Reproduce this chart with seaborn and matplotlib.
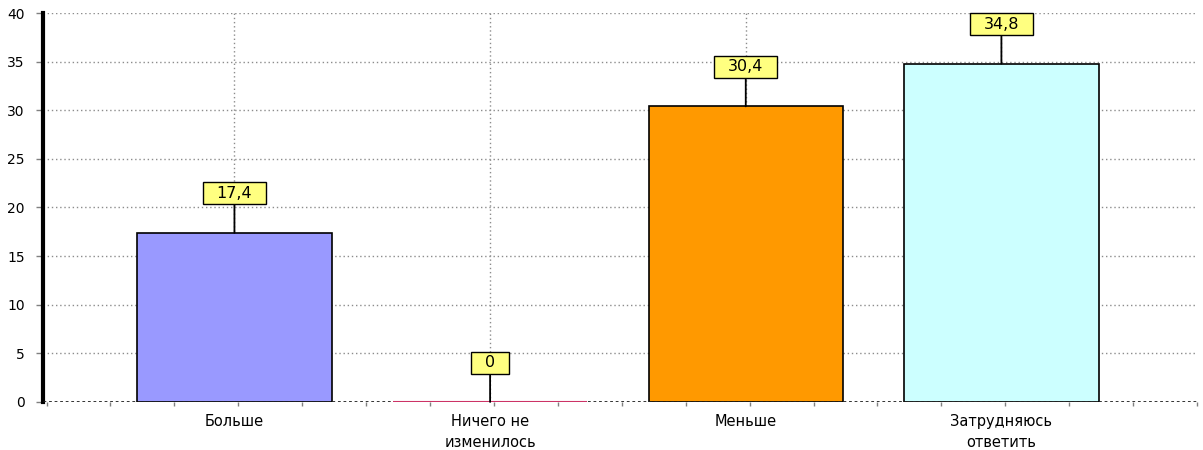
import matplotlib
matplotlib.use("Agg")
import matplotlib.pyplot as plt
from matplotlib.path import Path
import seaborn as sns
import numpy as np

categories = ["Больше", "Ничего не\nизменилось", "Меньше", "Затрудняюсь\nответить"]
values = [17.4, 0.0, 30.4, 34.8]
value_labels = ["17,4", "0", "30,4", "34,8"]
bar_colors = ["#9999FF", "#CC3366", "#FF9900", "#CCFFFF"]
y_ticks = [0, 5, 10, 15, 20, 25, 30, 35, 40]

sns.set_style("white")
plt.rcParams["font.family"] = ["DejaVu Sans"]
plt.rcParams["font.size"] = 10
plt.rcParams["text.color"] = "black"
plt.rcParams["xtick.labelcolor"] = "black"
plt.rcParams["ytick.labelcolor"] = "black"


def label_box(x0, y0, width, height, mutation_size):
    # rectangular box, wider padding left/right than top/bottom
    px = 0.85 * mutation_size
    py = 0.22 * mutation_size
    x0, x1 = x0 - px, x0 + width + px
    y0, y1 = y0 - py, y0 + height + py
    return Path([(x0, y0), (x1, y0), (x1, y1), (x0, y1), (x0, y0)], closed=True)


fig = plt.figure(figsize=(12.03, 4.5), dpi=100)
ax = fig.add_axes([0.0355, 0.1067, 0.9595, 0.8644])

sns.barplot(x=categories, y=values, hue=categories, palette=bar_colors,
            legend=False, width=0.76, linewidth=1.2, edgecolor="black",
            saturation=1, ax=ax, zorder=3)

# zero-height bar shows only as a coloured line over the baseline
for patch, val, col in zip(ax.patches, values, bar_colors):
    if val == 0:
        patch.set_edgecolor(col)
        patch.set_linewidth(1.5)
        patch.set_zorder(5)

ax.set_xlim(-0.75, 3.75)
ax.set_ylim(0, 40)
ax.set_yticks(y_ticks)
ax.set_yticklabels([str(t) for t in y_ticks], fontsize=10)

# category labels at major positions, small ticks every quarter step
ax.set_xticks(range(len(categories)))
ax.set_xticklabels(categories, fontsize=10.5, linespacing=1.45)
ax.set_xticks(np.arange(-0.75, 3.76, 0.25) + 0.015, minor=True)
ax.tick_params(axis="x", which="major", length=0, pad=9)
ax.tick_params(axis="x", which="minor", length=3, width=1, color="#808080",
               direction="out", bottom=True)
ax.tick_params(axis="y", which="major", length=5, width=1, color="#808080",
               direction="out", left=True, pad=8)

# dotted grid
for t in y_ticks[1:]:
    ax.axhline(t, color="#8c8c8c", linestyle=(0, (1, 2)), linewidth=1, zorder=1)
for i in range(len(categories)):
    ax.axvline(i, color="#8c8c8c", linestyle=(0, (1, 2)), linewidth=1, zorder=1)

for side in ["top", "right", "bottom"]:
    ax.spines[side].set_visible(False)
ax.spines["left"].set_linewidth(3)
ax.spines["left"].set_color("black")
ax.axhline(0, color="#202020", linestyle=(0, (1, 1)), linewidth=2, zorder=4)

ax.set_xlabel("")
ax.set_ylabel("")

# value callouts with leader lines
for i, (val, lab) in enumerate(zip(values, value_labels)):
    ax.annotate(lab, xy=(i, val), xytext=(i, val + 4.05),
                ha="center", va="center", fontsize=11.5, zorder=6, color="black",
                bbox=dict(boxstyle=label_box, fc="#FFFF80", ec="black", lw=1),
                arrowprops=dict(arrowstyle="-", color="black", lw=1.3,
                                shrinkA=0, shrinkB=0))

fig.savefig("out.png", dpi=100)
